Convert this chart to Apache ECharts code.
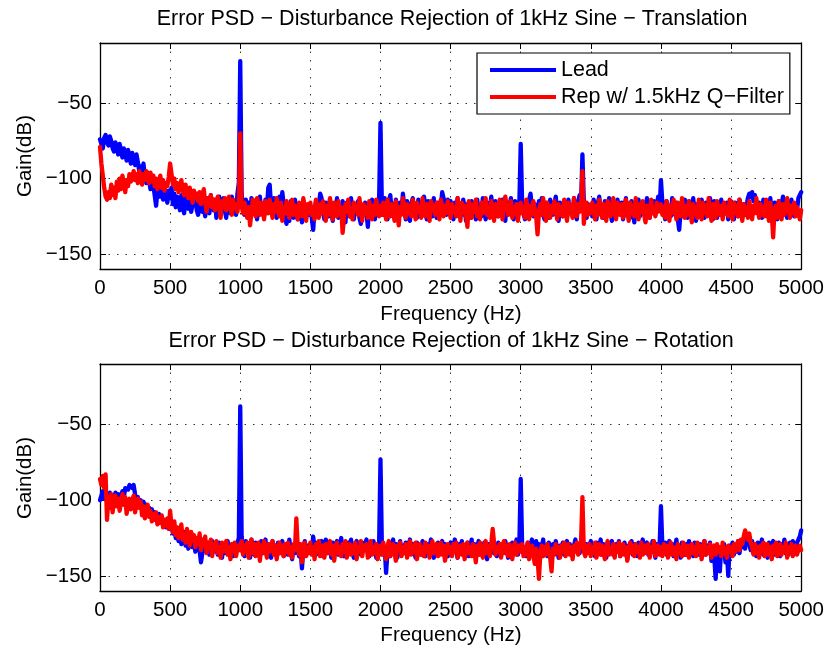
<!DOCTYPE html>
<html><head><meta charset="utf-8">
<script src="https://cdn.jsdelivr.net/npm/echarts@6/dist/echarts.min.js"></script>
<style>html,body{margin:0;padding:0;background:#fff}#c{width:827px;height:649px}</style>
</head><body><div id="c"></div>
<script>
// ---------- data ----------
// Each trace is stored as rows of 500 Hz, sampled every 10 Hz (50 values per row); last row = 5000 Hz.
const freqStepHz = 10;
const rowSpanHz = 500;
const xMinHz = 0, xMaxHz = 5000, xTickStep = 500;
const yMin = -160, yMax = -10;
const yTickValues = [-150, -100, -50];
const plotTitles = [
  'Error PSD \u2212 Disturbance Rejection of 1kHz Sine \u2212 Translation',
  'Error PSD \u2212 Disturbance Rejection of 1kHz Sine \u2212 Rotation'
];
const seriesNames = ['Lead', 'Rep w/ 1.5kHz Q\u2212Filter'];
const xLabel = 'Frequency (Hz)';
const yLabel = 'Gain(dB)';

// Translation – Lead (blue)
const transLead = [
[-74,-77,-80,-73,-71,-76,-78,-72,-75,-80,
 -82,-76,-79,-84,-77,-81,-86,-80,-83,-88,
 -81,-85,-90,-83,-87,-91,-84,-89,-95,-92,
 -97,-90,-99,-103,-96,-101,-107,-99,-104,-111,
 -118,-108,-103,-112,-109,-114,-106,-111,-116,-108],
[-113,-106,-117,-110,-119,-112,-115,-121,-111,-118,
 -123,-113,-116,-120,-112,-122,-117,-110,-114,-121,
 -124,-115,-112,-122,-118,-125,-113,-119,-123,-111,
 -117,-121,-114,-126,-119,-112,-124,-116,-113,-121,
 -126,-115,-118,-123,-112,-120,-117,-124,-110,-103],
[-22,-110,-119,-124,-114,-121,-116,-126,-113,-120,
 -123,-115,-127,-118,-112,-122,-117,-125,-114,-121,
 -106,-104,-119,-124,-113,-121,-126,-116,-112,-123,
 -109,-117,-125,-130,-119,-128,-115,-122,-126,-114,
 -120,-127,-117,-123,-129,-115,-121,-126,-118,-124],
[-119,-126,-134,-121,-115,-124,-118,-110,-113,-122,
 -127,-116,-120,-125,-114,-123,-128,-117,-121,-113,
 -126,-119,-124,-115,-122,-129,-116,-120,-125,-113,
 -121,-127,-118,-123,-115,-126,-130,-119,-124,-116,
 -122,-132,-118,-125,-114,-121,-127,-117,-123,-115],
[-63,-118,-124,-113,-121,-127,-115,-111,-122,-117,
 -125,-114,-120,-126,-116,-123,-110,-119,-127,-115,
 -122,-128,-117,-113,-124,-119,-126,-114,-121,-116,
 -124,-112,-118,-127,-115,-122,-118,-125,-113,-121,
 -126,-116,-123,-119,-109,-108,-117,-124,-114,-120],
[-115,-123,-127,-116,-121,-113,-125,-118,-124,-114,
 -120,-128,-117,-122,-126,-115,-121,-119,-127,-114,
 -123,-118,-125,-113,-121,-127,-116,-124,-119,-112,
 -122,-126,-115,-120,-125,-117,-123,-114,-121,-128,
 -116,-124,-118,-113,-122,-127,-115,-120,-125,-117],
[-77,-115,-123,-127,-116,-121,-114,-110,-119,-125,
 -117,-122,-128,-115,-120,-113,-124,-127,-116,-121,
 -126,-114,-119,-124,-117,-112,-123,-128,-116,-121,
 -125,-115,-120,-126,-114,-122,-118,-125,-113,-120,
 -127,-116,-111,-118,-84,-115,-121,-126,-117,-122],
[-119,-125,-114,-121,-127,-116,-112,-123,-118,-126,
 -115,-120,-124,-113,-122,-128,-117,-121,-125,-114,
 -119,-123,-116,-127,-120,-113,-124,-118,-126,-115,
 -121,-129,-117,-122,-114,-125,-119,-123,-116,-127,
 -113,-120,-126,-117,-122,-115,-124,-119,-112,-121],
[-101,-116,-123,-127,-115,-121,-118,-125,-113,-120,
 -124,-116,-127,-134,-122,-117,-125,-114,-121,-126,
 -115,-119,-124,-113,-122,-128,-117,-121,-125,-114,
 -120,-126,-116,-123,-118,-113,-124,-127,-115,-121,
 -126,-117,-122,-114,-125,-119,-123,-116,-127,-118],
[-115,-122,-127,-116,-121,-125,-114,-120,-126,-117,
 -123,-118,-113,-110,-112,-109,-115,-111,-118,-123,
 -116,-121,-126,-114,-119,-124,-117,-122,-113,-125,
 -120,-116,-123,-127,-115,-121,-118,-112,-124,-119,
 -126,-116,-122,-114,-120,-125,-117,-121,-113,-112],
[-109]];

// Translation – Rep w/ 1.5kHz Q-Filter (red)
const transRep = [
[-79,-90,-98,-106,-112,-114,-109,-113,-104,-111,
 -106,-113,-102,-108,-100,-107,-98,-103,-109,-101,
 -105,-97,-102,-99,-95,-101,-97,-103,-95,-99,
 -104,-97,-101,-95,-100,-103,-96,-102,-98,-105,
 -100,-107,-102,-98,-106,-101,-108,-103,-105,-99],
[-90,-97,-104,-100,-107,-103,-109,-105,-101,-108,
 -111,-104,-109,-113,-106,-111,-116,-108,-113,-110,
 -115,-109,-117,-112,-107,-116,-122,-113,-118,-111,
 -119,-114,-121,-116,-112,-120,-126,-115,-119,-113,
 -121,-116,-112,-119,-124,-114,-120,-117,-122,-115],
[-70,-118,-123,-116,-121,-126,-119,-131,-122,-114,
 -120,-125,-113,-118,-124,-116,-121,-127,-115,-120,
 -123,-114,-119,-126,-117,-122,-113,-120,-125,-116,
 -128,-119,-123,-115,-121,-126,-117,-114,-124,-118,
 -122,-127,-116,-120,-125,-113,-121,-128,-117,-123],
[-116,-124,-119,-127,-114,-121,-126,-117,-123,-115,
 -120,-128,-118,-124,-113,-122,-127,-116,-121,-125,
 -115,-123,-119,-136,-126,-117,-122,-114,-125,-120,
 -127,-116,-121,-118,-124,-113,-122,-128,-117,-123,
 -119,-126,-115,-121,-127,-118,-124,-114,-120,-125],
[-118,-124,-116,-121,-127,-114,-120,-125,-117,-122,
 -128,-115,-121,-131,-119,-124,-113,-120,-126,-117,
 -123,-118,-125,-114,-121,-127,-116,-122,-119,-126,
 -113,-120,-125,-117,-123,-128,-115,-121,-118,-124,
 -116,-122,-127,-114,-120,-125,-118,-123,-115,-121],
[-126,-117,-122,-119,-125,-113,-121,-128,-116,-123,
 -118,-124,-132,-115,-121,-126,-117,-122,-114,-125,
 -120,-127,-116,-123,-118,-113,-124,-119,-126,-115,
 -121,-128,-117,-122,-125,-114,-120,-127,-116,-112,
 -118,-124,-121,-115,-126,-119,-123,-117,-128,-120],
[-116,-123,-119,-126,-114,-121,-127,-118,-124,-115,
 -120,-125,-137,-122,-117,-124,-113,-121,-128,-116,
 -122,-126,-118,-123,-115,-120,-127,-117,-124,-119,
 -125,-114,-121,-128,-116,-123,-118,-126,-113,-120,
 -125,-117,-122,-119,-95,-130,-121,-116,-124,-118],
[-123,-116,-121,-127,-118,-124,-114,-120,-126,-117,
 -122,-128,-115,-121,-125,-118,-113,-123,-127,-116,
 -121,-124,-117,-126,-119,-114,-122,-128,-116,-123,
 -118,-125,-113,-120,-127,-117,-122,-115,-124,-129,
 -118,-121,-126,-114,-123,-119,-125,-116,-122,-120],
[-117,-124,-119,-126,-115,-121,-128,-118,-123,-114,
 -120,-127,-116,-122,-125,-113,-121,-126,-118,-124,
 -115,-122,-129,-117,-123,-119,-126,-114,-121,-127,
 -116,-123,-118,-125,-113,-120,-128,-117,-122,-126,
 -115,-121,-124,-118,-127,-116,-123,-119,-125,-114],
[-121,-127,-116,-123,-118,-125,-114,-122,-128,-117,
 -124,-119,-126,-115,-121,-127,-118,-123,-113,-120,
 -126,-117,-124,-119,-125,-114,-122,-128,-116,-123,
 -139,-121,-118,-126,-115,-122,-127,-117,-124,-119,
 -113,-121,-126,-118,-123,-116,-125,-119,-122,-127],
[-121]];

// Rotation – Lead (blue)
const rotLead = [
[-100,-97,-94,-99,-96,-101,-98,-95,-100,-97,
 -99,-95,-98,-96,-100,-97,-94,-98,-92,-91,
 -93,-90,-91,-92,-90,-96,-101,-98,-103,-100,
 -104,-101,-106,-103,-108,-105,-110,-106,-112,-108,
 -111,-115,-109,-114,-111,-116,-113,-118,-114,-117],
[-119,-115,-122,-118,-125,-120,-127,-122,-129,-124,
 -121,-130,-126,-132,-128,-124,-131,-127,-134,-129,
 -126,-133,-141,-135,-130,-127,-134,-129,-136,-131,
 -127,-134,-129,-130,-136,-128,-133,-138,-129,-135,
 -131,-127,-136,-132,-129,-137,-130,-134,-128,-125],
[-38,-124,-132,-137,-127,-134,-129,-138,-126,-133,
 -136,-128,-134,-130,-137,-127,-135,-131,-126,-136,
 -129,-134,-138,-127,-133,-130,-136,-128,-135,-131,
 -127,-137,-132,-129,-136,-126,-134,-139,-130,-135,
 -128,-133,-137,-131,-145,-132,-127,-136,-130,-134],
[-129,-135,-124,-131,-136,-128,-134,-130,-127,-137,
 -132,-126,-135,-129,-133,-138,-128,-134,-131,-127,
 -136,-130,-125,-133,-137,-129,-135,-128,-132,-126,
 -134,-138,-130,-127,-135,-131,-136,-128,-133,-129,
 -126,-134,-137,-130,-135,-127,-132,-138,-129,-131],
[-73,-130,-136,-131,-148,-134,-128,-137,-131,-126,
 -135,-129,-138,-132,-127,-136,-130,-134,-128,-137,
 -131,-126,-135,-129,-133,-138,-128,-134,-130,-136,
 -127,-133,-137,-129,-135,-131,-126,-134,-138,-130,
 -132,-128,-136,-131,-127,-135,-129,-134,-137,-130],
[-128,-135,-131,-126,-134,-138,-129,-133,-127,-136,
 -130,-134,-128,-137,-132,-126,-135,-129,-138,-131,
 -127,-136,-130,-133,-128,-135,-139,-129,-134,-131,
 -126,-135,-130,-137,-128,-133,-136,-129,-134,-127,
 -132,-138,-130,-135,-128,-134,-131,-126,-136,-130],
[-86,-129,-135,-131,-137,-128,-134,-130,-126,-136,
 -132,-127,-135,-129,-138,-131,-126,-134,-130,-137,
 -128,-133,-136,-129,-135,-127,-132,-138,-130,-134,
 -128,-136,-131,-127,-135,-129,-134,-137,-130,-126,
 -133,-129,-135,-128,-124,-131,-136,-129,-134,-130],
[-127,-135,-130,-137,-128,-134,-131,-126,-136,-129,
 -133,-138,-128,-135,-130,-127,-136,-132,-129,-134,
 -127,-137,-131,-135,-128,-133,-139,-130,-134,-127,
 -136,-129,-132,-137,-128,-134,-130,-126,-135,-131,
 -128,-136,-130,-134,-127,-133,-138,-129,-135,-131],
[-104,-130,-135,-128,-136,-131,-127,-134,-129,-137,
 -132,-126,-135,-130,-138,-128,-133,-136,-129,-134,
 -127,-135,-131,-137,-128,-133,-130,-136,-129,-134,
 -131,-127,-136,-130,-134,-128,-140,-133,-137,-152,
 -132,-138,-147,-131,-135,-129,-141,-134,-150,-130],
[-133,-128,-136,-130,-134,-127,-135,-129,-131,-126,
 -132,-125,-124,-129,-133,-127,-135,-130,-137,-128,
 -134,-131,-126,-136,-129,-133,-138,-128,-135,-130,
 -127,-136,-131,-134,-128,-137,-129,-133,-126,-135,
 -130,-136,-128,-133,-127,-135,-130,-129,-126,-124],
[-120]];

// Rotation – Rep w/ 1.5kHz Q-Filter (red)
const rotRep = [
[-86,-90,-84,-92,-83,-113,-98,-105,-96,-108,
 -100,-97,-104,-99,-107,-101,-96,-103,-98,-109,
 -102,-99,-106,-100,-97,-108,-103,-99,-105,-101,
 -110,-104,-112,-106,-103,-111,-107,-114,-109,-113,
 -108,-116,-111,-115,-110,-118,-113,-117,-112,-119],
[-107,-117,-121,-114,-123,-118,-125,-120,-116,-126,
 -122,-128,-119,-124,-130,-121,-127,-123,-131,-125,
 -129,-122,-133,-126,-130,-124,-135,-128,-132,-126,
 -137,-129,-133,-127,-135,-131,-138,-128,-134,-130,
 -127,-136,-131,-139,-129,-134,-128,-137,-132,-130],
[-133,-127,-136,-130,-134,-128,-138,-131,-126,-135,
 -129,-137,-132,-128,-140,-130,-135,-127,-133,-138,
 -129,-134,-131,-127,-136,-130,-139,-132,-128,-135,
 -130,-137,-129,-134,-128,-136,-131,-138,-129,-133,
 -112,-131,-136,-129,-141,-133,-128,-137,-131,-135],
[-128,-136,-131,-139,-129,-134,-127,-137,-132,-130,
 -138,-129,-135,-131,-127,-136,-130,-140,-132,-128,
 -135,-131,-137,-129,-134,-127,-138,-132,-129,-136,
 -130,-135,-128,-139,-131,-134,-127,-137,-130,-133,
 -129,-138,-132,-127,-136,-131,-135,-129,-139,-133],
[-130,-136,-128,-134,-139,-131,-127,-137,-132,-129,
 -135,-140,-130,-133,-128,-137,-131,-135,-129,-138,
 -132,-127,-136,-130,-134,-128,-139,-133,-129,-136,
 -131,-137,-128,-134,-130,-138,-132,-127,-135,-131,
 -129,-137,-133,-128,-136,-130,-140,-134,-129,-135],
[-131,-137,-129,-134,-128,-138,-132,-130,-136,-129,
 -139,-133,-128,-135,-131,-137,-129,-134,-141,-130,
 -136,-128,-133,-138,-131,-127,-135,-130,-137,-129,
 -119,-128,-136,-131,-134,-129,-138,-132,-127,-135,
 -130,-137,-129,-134,-139,-131,-128,-136,-132,-130],
[-134,-129,-137,-131,-136,-128,-139,-133,-130,-136,
 -142,-132,-138,-152,-135,-130,-137,-131,-136,-129,
 -134,-138,-147,-132,-136,-129,-135,-131,-138,-130,
 -134,-128,-137,-132,-129,-136,-131,-139,-130,-134,
 -128,-136,-131,-128,-98,-134,-137,-130,-135,-129],
[-137,-131,-135,-128,-138,-132,-129,-136,-130,-134,
 -139,-131,-127,-136,-132,-135,-129,-138,-130,-134,
 -128,-137,-133,-129,-136,-131,-140,-132,-128,-135,
 -130,-137,-129,-134,-131,-138,-128,-136,-132,-130,
 -135,-129,-138,-131,-134,-127,-137,-132,-130,-136],
[-131,-137,-129,-135,-130,-138,-132,-128,-136,-131,
 -134,-139,-129,-135,-131,-137,-128,-133,-136,-130,
 -138,-132,-129,-135,-131,-137,-128,-134,-130,-139,
 -132,-127,-136,-131,-135,-129,-138,-132,-130,-136,
 -129,-134,-131,-137,-128,-135,-132,-138,-130,-134],
[-131,-137,-129,-134,-130,-127,-133,-126,-129,-124,
 -120,-123,-126,-122,-128,-131,-136,-129,-135,-131,
 -138,-130,-134,-128,-137,-132,-129,-136,-131,-139,
 -130,-135,-128,-137,-132,-129,-136,-131,-134,-128,
 -138,-131,-135,-129,-137,-132,-130,-136,-133,-130],
[-133]];

// ---------- chart ----------
const FONT = "'Liberation Sans', Arial, Helvetica, sans-serif";
const BLUE = '#0000ff', RED = '#ff0000';
const grids = [
  {left: 100, top: 43, width: 702, height: 226},
  {left: 100, top: 364, width: 702, height: 227}
];
function pairs(rows) {
  const out = [];
  rows.forEach((row, r) => row.forEach((v, k) => out.push([r * rowSpanHz + k * freqStepHz, v])));
  return out;
}
const minus = v => String(v).replace('-', '\u2212');
const gridLine = {show: true, lineStyle: {color: '#333', type: [1.5, 7], width: 1}};
const axLine = {show: true, onZero: false, lineStyle: {color: '#000', width: 1.3}};
const tick = {show: true, inside: true, length: 6, lineStyle: {color: '#000', width: 1}};
const tickFont = {color: '#000', fontSize: 20.5, fontFamily: FONT};

const xAxes = [], yAxes = [];
grids.forEach((g, gi) => {
  xAxes.push({type: 'value', gridIndex: gi, position: 'bottom', min: xMinHz, max: xMaxHz, interval: xTickStep,
    axisLine: axLine, axisTick: tick, splitLine: gridLine,
    axisLabel: Object.assign({margin: 9, showMinLabel: true, showMaxLabel: true, formatter: v => String(v)}, tickFont)});
  xAxes.push({type: 'value', gridIndex: gi, position: 'top', min: xMinHz, max: xMaxHz, interval: xTickStep,
    axisLine: axLine, axisTick: tick, splitLine: {show: false}, axisLabel: {show: false}});
  yAxes.push({type: 'value', gridIndex: gi, position: 'left', min: yMin, max: yMax,
    axisLine: axLine, axisTick: Object.assign({customValues: yTickValues}, tick), splitLine: gridLine,
    axisLabel: Object.assign({customValues: yTickValues, margin: 8, formatter: minus}, tickFont)});
  yAxes.push({type: 'value', gridIndex: gi, position: 'right', min: yMin, max: yMax,
    axisLine: axLine, axisTick: Object.assign({customValues: yTickValues}, tick), splitLine: {show: false},
    axisLabel: {show: false}});
});

function lineSeries(name, rows, color, gi) {
  return {type: 'line', name, data: pairs(rows), xAxisIndex: gi * 2, yAxisIndex: gi * 2,
    showSymbol: false, symbol: 'none', animation: false, sampling: null, progressive: 0,
    lineStyle: {color, width: 4.3, cap: 'round', join: 'round'}, itemStyle: {color}};
}

const txt = (text, x, y, size, rot) => ({type: 'text', x, y, rotation: rot || 0, z: 100,
  style: {text, fill: '#000', font: size + 'px ' + FONT, textAlign: 'center', textVerticalAlign: 'middle'}});

const chart = echarts.init(document.getElementById('c'), null, {renderer: 'canvas'});
chart.setOption({
  animation: false,
  backgroundColor: '#fff',
  grid: grids,
  xAxis: xAxes,
  yAxis: yAxes,
  legend: {data: seriesNames, orient: 'vertical', left: 477, top: 53, icon: 'rect',
    itemWidth: 66, itemHeight: 4, itemGap: 5, padding: [6, 6, 6, 13],
    borderColor: '#000', borderWidth: 1.2, backgroundColor: '#fff',
    textStyle: {fontSize: 21.5, fontFamily: FONT, color: '#000'}},
  series: [
    lineSeries(seriesNames[0], transLead, BLUE, 0),
    lineSeries(seriesNames[1], transRep, RED, 0),
    lineSeries(seriesNames[0], rotLead, BLUE, 1),
    lineSeries(seriesNames[1], rotRep, RED, 1)
  ],
  graphic: [
    txt(plotTitles[0], 452, 19, 21.5),
    txt(plotTitles[1], 451, 341, 21.5),
    txt(xLabel, 451, 314, 20.5),
    txt(xLabel, 451, 635, 20.5),
    txt(yLabel, 25, 156, 20.5, Math.PI / 2),
    txt(yLabel, 25, 478, 20.5, Math.PI / 2)
  ]
});
</script></body></html>
